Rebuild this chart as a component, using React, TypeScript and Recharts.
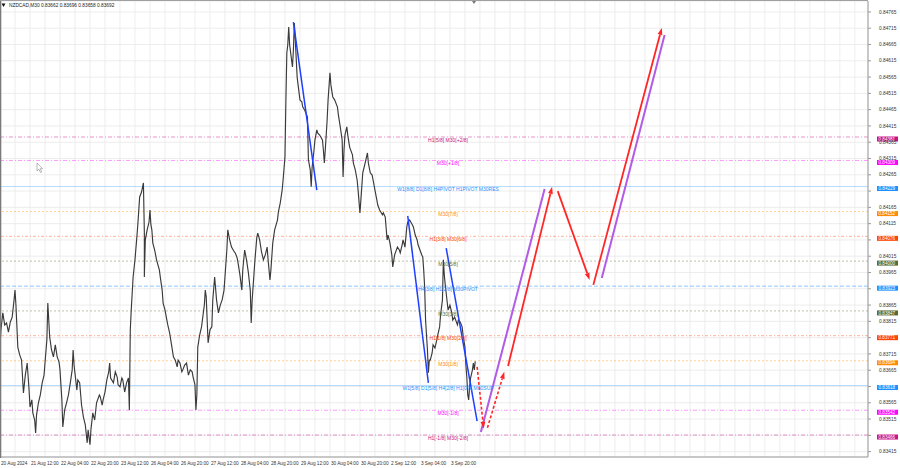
import React from 'react'
import {
  ComposedChart,
  Line,
  XAxis,
  YAxis,
  CartesianGrid,
  ReferenceLine,
  ReferenceDot,
} from 'recharts'

const FONT = '"Liberation Sans", Arial, sans-serif'
const HEADER = 'NZDCAD,M30  0.83662 0.83696 0.83658 0.83692'

// M30 bar index (0 = 20 Aug 2024) and price
const pricePath: [number, number][] = [
  [0, 0.83743], [1, 0.83789], [3, 0.83841], [5, 0.83804], [7, 0.8381], [9, 0.83782], [11, 0.83813], [13, 0.83828], [15, 0.83881], [16, 0.83911],
  [17, 0.83865], [19, 0.83736], [21, 0.83712], [23, 0.83696], [25, 0.83595], [27, 0.8365], [29, 0.83687], [31, 0.83604], [32, 0.83552], [34, 0.83574],
  [35, 0.83534], [37, 0.83512], [38, 0.83472], [39, 0.83528], [41, 0.83565], [43, 0.83589], [45, 0.83626], [47, 0.8365], [48, 0.83687], [50, 0.83758],
  [51, 0.83871], [52, 0.83819], [53, 0.83767], [55, 0.83727], [57, 0.83706], [59, 0.83743], [61, 0.83706], [63, 0.8369], [64, 0.83666], [66, 0.83574],
  [67, 0.83491], [69, 0.83543], [71, 0.83565], [73, 0.83589], [75, 0.83626], [77, 0.83666], [78, 0.83727], [79, 0.83681], [82, 0.83604], [83, 0.83635],
  [85, 0.83626], [87, 0.83558], [89, 0.83521], [91, 0.83497], [93, 0.83442], [94, 0.83482], [96, 0.83436], [97, 0.83482], [99, 0.83534], [101, 0.83512],
  [103, 0.83565], [106, 0.83589], [107, 0.83583], [109, 0.83558], [110, 0.83574], [112, 0.83598], [114, 0.83635], [116, 0.8366], [117, 0.83687], [118, 0.83641],
  [121, 0.83626], [123, 0.8366], [125, 0.83644], [126, 0.8362], [128, 0.83614], [130, 0.83641], [131, 0.83635], [133, 0.83598], [135, 0.83626], [137, 0.83641],
  [138, 0.83543], [139, 0.83789], [140, 0.8385], [142, 0.83951], [144, 0.84004], [146, 0.84074], [147, 0.84111], [149, 0.84197], [151, 0.84212], [153, 0.8424],
  [154, 0.84086], [154, 0.83951], [155, 0.84065], [157, 0.84096], [159, 0.8412], [160, 0.84157], [161, 0.84111], [162, 0.84096], [163, 0.84056], [165, 0.84034],
  [167, 0.84004], [170, 0.83973], [171, 0.83951], [173, 0.83911], [174, 0.83871], [176, 0.8385], [178, 0.83819], [179, 0.83804], [181, 0.83779], [183, 0.83743],
  [185, 0.83706], [187, 0.83696], [189, 0.83675], [190, 0.83696], [192, 0.83687], [194, 0.8366], [195, 0.83666], [197, 0.83681], [199, 0.83687], [201, 0.8365],
  [203, 0.83666], [205, 0.8366], [206, 0.83644], [208, 0.8362], [209, 0.83543], [210, 0.83589], [211, 0.83736], [213, 0.83773], [215, 0.83798], [218, 0.83865],
  [219, 0.83911], [220, 0.8389], [221, 0.83819], [222, 0.83749], [224, 0.83789], [226, 0.83798], [227, 0.83881], [229, 0.83951], [231, 0.83881], [233, 0.83841],
  [235, 0.83865], [237, 0.83881], [239, 0.83911], [240, 0.83951], [242, 0.84034], [243, 0.84096], [245, 0.84065], [247, 0.84043], [250, 0.84028], [251, 0.84025],
  [253, 0.8401], [254, 0.83994], [256, 0.83957], [258, 0.83911], [259, 0.83973], [261, 0.84034], [263, 0.84004], [265, 0.83964], [267, 0.83911], [268, 0.8381],
  [269, 0.83881], [270, 0.83921], [272, 0.84004], [274, 0.84074], [275, 0.84086], [277, 0.84065], [279, 0.84028], [281, 0.84004], [283, 0.84019], [285, 0.84043],
  [286, 0.84004], [288, 0.83942], [289, 0.83973], [291, 0.84056], [293, 0.84096], [296, 0.84126], [297, 0.84151], [299, 0.84179], [301, 0.84218], [302, 0.84249],
  [304, 0.8432], [305, 0.84495], [306, 0.84639], [307, 0.84664], [308, 0.84719], [309, 0.84664], [312, 0.84596], [313, 0.84648], [314, 0.84731], [315, 0.84679],
  [317, 0.84565], [318, 0.84541], [320, 0.84495], [322, 0.84489], [323, 0.84473], [325, 0.84464], [328, 0.84442], [329, 0.84311], [331, 0.8428], [332, 0.84228],
  [333, 0.84289], [335, 0.84341], [336, 0.84372], [338, 0.84403], [339, 0.84393], [341, 0.84387], [344, 0.84372], [345, 0.84341], [346, 0.84301], [347, 0.84341],
  [349, 0.84433], [350, 0.84495], [352, 0.84578], [353, 0.84541], [355, 0.84504], [357, 0.84495], [360, 0.84473], [361, 0.84449], [363, 0.84412], [365, 0.84372],
  [366, 0.84258], [367, 0.84341], [368, 0.84387], [370, 0.84412], [371, 0.84387], [373, 0.8435], [376, 0.84326], [377, 0.84301], [379, 0.8428], [381, 0.84249],
  [382, 0.84218], [384, 0.84148], [385, 0.84188], [387, 0.84271], [389, 0.84295], [392, 0.84332], [393, 0.84301], [395, 0.84271], [397, 0.84264], [398, 0.84249],
  [400, 0.84218], [402, 0.84188], [403, 0.84172], [405, 0.84157], [408, 0.84142], [409, 0.84148], [411, 0.84135], [413, 0.84065], [414, 0.8408], [416, 0.84056],
  [418, 0.84019], [419, 0.83982], [421, 0.84019], [424, 0.84043], [426, 0.84034], [427, 0.84025], [429, 0.8405], [430, 0.84065], [432, 0.84043], [434, 0.84105],
  [435, 0.8412], [437, 0.84126], [440, 0.84111], [441, 0.84105], [443, 0.8408], [445, 0.84065], [446, 0.8405], [448, 0.84034], [450, 0.84019], [451, 0.84013],
  [452, 0.83973], [453, 0.83921], [454, 0.83819], [456, 0.83727], [457, 0.83657], [458, 0.83696], [459, 0.83696], [461, 0.83718], [462, 0.83743], [464, 0.83733],
  [466, 0.83758], [467, 0.83773], [469, 0.83798], [470, 0.83835], [472, 0.83881], [473, 0.84004], [474, 0.83957], [475, 0.83927], [476, 0.83902], [478, 0.8385],
  [480, 0.83865], [482, 0.83841], [483, 0.83819], [485, 0.83828], [488, 0.83804], [489, 0.83819], [491, 0.83813], [493, 0.83798], [494, 0.83773], [496, 0.83736],
  [497, 0.83681], [498, 0.83644], [499, 0.83589], [500, 0.83574], [501, 0.83614], [502, 0.83641], [504, 0.83666], [505, 0.83687], [506, 0.83666], [507, 0.83692],
]

const timeLabels = [
  '20 Aug 2024', '21 Aug 12:00', '22 Aug 04:00', '22 Aug 20:00', '23 Aug 12:00', '26 Aug 04:00',
  '26 Aug 20:00', '27 Aug 12:00', '28 Aug 04:00', '28 Aug 20:00', '29 Aug 12:00', '30 Aug 04:00',
  '30 Aug 20:00', '2 Sep 12:00', '3 Sep 04:00', '3 Sep 20:00',
]

const priceTicks = [
  0.83415, 0.83465, 0.83515, 0.83565, 0.83615, 0.83665, 0.83715, 0.83765, 0.83815, 0.83865,
  0.83915, 0.83965, 0.84015, 0.84065, 0.84115, 0.84165, 0.84215, 0.84265, 0.84315, 0.84365,
  0.84415, 0.84465, 0.84515, 0.84565, 0.84615, 0.84665, 0.84715, 0.84765,
]

// Murrey levels
const levelPrices = [
  0.84381, 0.84309, 0.84229, 0.84152, 0.84076, 0.84, 0.83923,
  0.83847, 0.83771, 0.83694, 0.83618, 0.83542, 0.83466,
]
const levelNames = [
  'H1[5/8] M30[+2/8]',
  'M30[+1/8]',
  'W1[8/8] D1[8/8] H4PIVOT H1PIVOT M30RES',
  'M30[7/8]',
  'H1[3/8] M30[6/8]',
  'M30[5/8]',
  'H4[3/8] H1[2/8] M30PIVOT',
  'M30[3/8]',
  'H1[1/8] M30[2/8]',
  'M30[1/8]',
  'W1[5/8] D1[5/8] H4[2/8] H1[0/8] M30SUP',
  'M30[-1/8]',
  'H1[-1/8] M30[-2/8]',
]

// drawn forecast segments: [bar1, price1, bar2, price2]
const blueTrends = [
  [313, 0.84734, 338, 0.84218],
  [435, 0.84139, 457, 0.83626],
  [476, 0.8404, 509, 0.83509],
]
const purpleWaves = [
  [513, 0.83475, 581, 0.84221],
  [642, 0.83948, 709, 0.84694],
]
const redWaves = [
  [542, 0.83678, 589, 0.84228],
  [595, 0.84215, 629, 0.83942],
  [633, 0.83927, 706, 0.84716],
]
const redDashed = [
  [509, 0.83675, 516, 0.83485],
  [520, 0.83488, 538, 0.8366],
]

const LEVEL_STYLE = [
  { color: '#c71585', dash: '4 2 1 2', op: 0.5 },
  { color: '#ff00ff', dash: '4 2 1 2', op: 0.45 },
  { color: '#1e90ff', dash: undefined, op: 0.35 },
  { color: '#ff8c00', dash: '2 2', op: 0.45 },
  { color: '#ff4500', dash: '3 2 1 2', op: 0.45 },
  { color: '#556b2f', dash: '2 2', op: 0.45 },
  { color: '#1e90ff', dash: '4 2', op: 0.55 },
  { color: '#556b2f', dash: '2 2', op: 0.45 },
  { color: '#ff4500', dash: '3 2 1 2', op: 0.45 },
  { color: '#ff8c00', dash: '2 2', op: 0.45 },
  { color: '#1e90ff', dash: undefined, op: 0.35 },
  { color: '#ff00ff', dash: '4 2 1 2', op: 0.45 },
  { color: '#c71585', dash: '4 2 1 2', op: 0.5 },
]

const X_MAX = 926
const Y_MIN = 0.833985
const Y_MAX = 0.847986
const LABEL_BAR = 478
const gridBars = Array.from({ length: 58 }, (_, i) => i * 16)

const priceData = pricePath.map(([bar, price]) => ({ bar, price }))

// price scale labels covered by a level tag are not printed
const tickHidden = (t: number) => levelPrices.some((l) => l - t >= 0 && l - t < 0.00015)

function arrow(color: string, width: number, dash?: string, head = true) {
  return (p: any) => {
    const { x1, y1, x2, y2 } = p
    const a = Math.atan2(y2 - y1, x2 - x1)
    const len = head ? 7 : 0
    const hw = 2.4
    const bx = x2 - len * Math.cos(a)
    const by = y2 - len * Math.sin(a)
    const nx = -Math.sin(a) * hw
    const ny = Math.cos(a) * hw
    return (
      <g>
        <line x1={x1} y1={y1} x2={bx} y2={by} stroke={color} strokeWidth={width} strokeDasharray={dash} />
        {head && (
          <polygon points={`${x2},${y2} ${bx + nx},${by + ny} ${bx - nx},${by - ny}`} fill={color} />
        )}
      </g>
    )
  }
}

const priceTag = (price: number, color: string) => (p: any) => {
  const vb = p.viewBox
  const x = vb.x + vb.width + 9
  const y = vb.y
  return (
    <g>
      <rect x={x} y={y - 0.5} width={21} height={5} fill={color} />
      <text x={x + 1.5} y={y + 3.6} fontSize={4.6} fill="#fff" fontFamily={FONT}>
        {price.toFixed(5)}
      </text>
    </g>
  )
}

const levelText = (name: string, color: string) => (p: any) => {
  const vb = p.viewBox
  return (
    <text
      x={vb.x + vb.width / 2}
      y={vb.y + vb.height / 2 + 4.8}
      textAnchor="middle"
      fontSize={5}
      fill={color}
      fontFamily={FONT}
    >
      {name}
    </text>
  )
}

const priceTick = (p: any) => {
  const v = Number(p.payload.value)
  if (tickHidden(v)) return <g />
  return (
    <text x={p.x + 6} y={p.y + 1.7} fontSize={4.8} fill="#333" fontFamily={FONT}>
      {v.toFixed(5)}
    </text>
  )
}

const timeTick = (p: any) => {
  const v = p.payload.value
  const idx = v / 32
  if (v % 32 !== 0 || idx >= timeLabels.length) return <g />
  return (
    <text x={p.x + 1} y={p.y + 4} fontSize={4.7} fill="#333" fontFamily={FONT}>
      {timeLabels[idx]}
    </text>
  )
}

export default function App() {
  return (
    <div style={{ position: 'absolute', left: 0, top: 0, width: 900, height: 468, background: '#fff' }}>
      <ComposedChart width={900} height={468} margin={{ top: 1, right: 0, bottom: 0, left: 0 }}>
        <CartesianGrid stroke="#e8e8e8" strokeWidth={0.8} />
        <XAxis
          type="number"
          dataKey="bar"
          domain={[0, X_MAX]}
          allowDataOverflow
          ticks={gridBars}
          interval={0}
          height={11}
          tickLine={false}
          tickSize={2}
          tickMargin={2}
          axisLine={{ stroke: '#9a9a9a' }}
          tick={timeTick}
        />
        <YAxis
          orientation="right"
          type="number"
          domain={[Y_MIN, Y_MAX]}
          allowDataOverflow
          ticks={priceTicks}
          interval={0}
          width={32}
          tickSize={3}
          tickMargin={2}
          axisLine={{ stroke: '#9a9a9a' }}
          tickLine={{ stroke: '#9a9a9a' }}
          tick={priceTick}
        />
        {levelPrices.map((price, i) => (
          <ReferenceLine
            key={`lv${i}`}
            y={price}
            stroke={LEVEL_STYLE[i].color}
            strokeOpacity={LEVEL_STYLE[i].op}
            strokeWidth={0.9}
            strokeDasharray={LEVEL_STYLE[i].dash}
            label={priceTag(price, LEVEL_STYLE[i].color)}
          />
        ))}
        <Line
          data={priceData}
          dataKey="price"
          type="linear"
          stroke="#3a3a3a"
          strokeWidth={1.15}
          dot={false}
          isAnimationActive={false}
        />
        {blueTrends.map(([a, p, b, q], i) => (
          <ReferenceLine key={`bt${i}`} segment={[{ x: a, y: p }, { x: b, y: q }]} shape={arrow('#1f3fff', 1.5, undefined, false)} />
        ))}
        {purpleWaves.map(([a, p, b, q], i) => (
          <ReferenceLine key={`pw${i}`} segment={[{ x: a, y: p }, { x: b, y: q }]} shape={arrow('#b15be6', 2, undefined, false)} />
        ))}
        {redWaves.map(([a, p, b, q], i) => (
          <ReferenceLine key={`rw${i}`} segment={[{ x: a, y: p }, { x: b, y: q }]} shape={arrow('#ff2626', 1.8)} />
        ))}
        {redDashed.map(([a, p, b, q], i) => (
          <ReferenceLine key={`rd${i}`} segment={[{ x: a, y: p }, { x: b, y: q }]} shape={arrow('#ff2626', 1.6, '3 2')} />
        ))}
        {levelPrices.map((price, i) => (
          <ReferenceDot
            key={`lt${i}`}
            x={LABEL_BAR}
            y={price}
            r={0}
            fill="none"
            stroke="none"
            label={levelText(levelNames[i], LEVEL_STYLE[i].color)}
          />
        ))}
      </ComposedChart>
      <svg
        width={900}
        height={468}
        style={{ position: 'absolute', left: 0, top: 0, pointerEvents: 'none' }}
      >
        <line x1={0.6} y1={0} x2={0.6} y2={458} stroke="#7a7a7a" strokeWidth={1.4} />
        <line x1={0} y1={0.5} x2={868} y2={0.5} stroke="#a0a0a0" strokeWidth={1} />
        <polygon points="472,1 476,1 474,4" fill="#777" />
        <polygon points="1.5,3.5 5.5,3.5 3.5,7" fill="#111" />
        <text x={9} y={7.3} fontSize={4.8} fill="#222" fontFamily={FONT}>
          {HEADER}
        </text>
        <path
          d="M37 163 L37 171 L38.9 169.2 L40.5 172.6 L41.7 172 L40.2 168.7 L42.6 168.7 Z"
          fill="#fff"
          stroke="#8a8a8a"
          strokeWidth={0.6}
        />
      </svg>
    </div>
  )
}
